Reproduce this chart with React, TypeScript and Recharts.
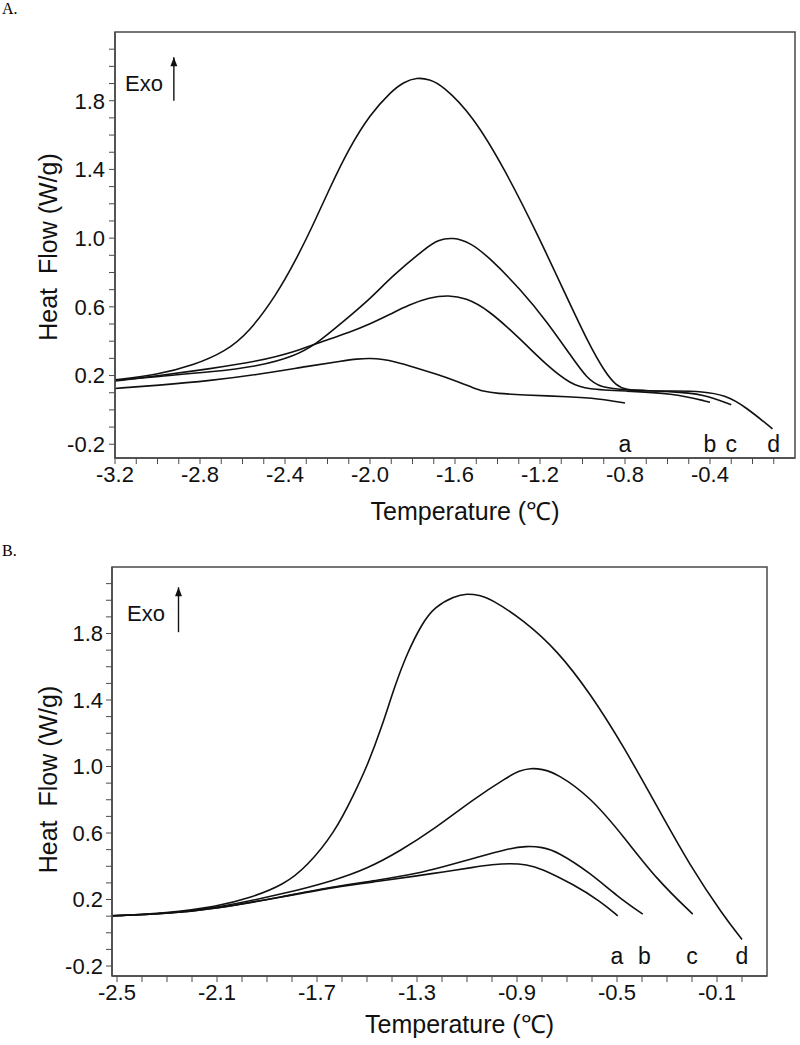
import React from 'react';
import { LineChart, Line, XAxis, YAxis, ReferenceArea, ReferenceDot, ReferenceLine } from 'recharts';

type Pt = [number, number];

const FONT = '"Liberation Sans", Arial, Helvetica, sans-serif';

// ---------- Panel A data (Temperature °C, Heat flow W/g) ----------
const panelA_a: Pt[] = [
  [-3.2, 0.125], [-3.0, 0.143], [-2.75, 0.17], [-2.52, 0.207], [-2.29, 0.255], [-2.13, 0.285],
  [-2.06, 0.297], [-2.0, 0.301], [-1.94, 0.295], [-1.88, 0.28], [-1.8, 0.252], [-1.68, 0.205],
  [-1.6, 0.17], [-1.52, 0.132], [-1.47, 0.108], [-1.4, 0.095], [-1.29, 0.088], [-1.055, 0.076],
  [-0.93, 0.066], [-0.8, 0.04],
];
const panelA_b: Pt[] = [
  [-3.2, 0.168], [-3.0, 0.198], [-2.75, 0.24], [-2.52, 0.285], [-2.36, 0.335], [-2.21, 0.405],
  [-2.1, 0.45], [-2.0, 0.5], [-1.9, 0.56], [-1.82, 0.61], [-1.72, 0.655], [-1.63, 0.668],
  [-1.55, 0.652], [-1.445, 0.585], [-1.29, 0.41], [-1.165, 0.255], [-1.055, 0.15], [-0.977, 0.12],
  [-0.8, 0.11], [-0.58, 0.098], [-0.4, 0.045],
];
const panelA_c: Pt[] = [
  [-3.2, 0.172], [-3.0, 0.195], [-2.75, 0.22], [-2.52, 0.255], [-2.36, 0.31], [-2.25, 0.385],
  [-2.13, 0.51], [-2.0, 0.645], [-1.895, 0.78], [-1.74, 0.94], [-1.68, 0.99], [-1.61, 1.005],
  [-1.53, 0.975], [-1.445, 0.895], [-1.29, 0.7], [-1.165, 0.51], [-1.055, 0.315], [-0.977, 0.18],
  [-0.915, 0.13], [-0.8, 0.115], [-0.58, 0.108], [-0.43, 0.092], [-0.3, 0.03],
];
const panelA_d: Pt[] = [
  [-3.2, 0.175], [-3.0, 0.205], [-2.83, 0.26], [-2.68, 0.34], [-2.57, 0.45], [-2.44, 0.67],
  [-2.35, 0.87], [-2.27, 1.07], [-2.19, 1.29], [-2.1, 1.52], [-2.0, 1.72], [-1.9, 1.855],
  [-1.84, 1.91], [-1.78, 1.935], [-1.72, 1.925], [-1.66, 1.89], [-1.52, 1.72], [-1.365, 1.4],
  [-1.207, 1.01], [-1.083, 0.68], [-0.973, 0.39], [-0.895, 0.22], [-0.84, 0.14], [-0.8, 0.118],
  [-0.7, 0.11], [-0.58, 0.11], [-0.43, 0.108], [-0.33, 0.085], [-0.24, 0.025], [-0.106, -0.11],
];

const aXTicks = [-3.2, -3.1, -3.0, -2.9, -2.8, -2.7, -2.6, -2.5, -2.4, -2.3, -2.2, -2.1, -2.0, -1.9, -1.8, -1.7,
  -1.6, -1.5, -1.4, -1.3, -1.2, -1.1, -1.0, -0.9, -0.8, -0.7, -0.6, -0.5, -0.4, -0.3, -0.2, -0.1];
const aXLabels = [-3.2, -2.8, -2.4, -2.0, -1.6, -1.2, -0.8, -0.4];
const yTicks = [-0.2, -0.1, 0.0, 0.1, 0.2, 0.3, 0.4, 0.5, 0.6, 0.7, 0.8, 0.9, 1.0, 1.1, 1.2, 1.3, 1.4, 1.5,
  1.6, 1.7, 1.8, 1.9, 2.0, 2.1];
const yLabels = [-0.2, 0.2, 0.6, 1.0, 1.4, 1.8];
const aLetters = ['a', 'b', 'c', 'd'];
const aLetterX = [-0.8, -0.4, -0.3, -0.1];

// ---------- Panel B data ----------
const panelB_a: Pt[] = [
  [-2.52, 0.102], [-2.3, 0.114], [-2.1, 0.145], [-1.83, 0.218], [-1.63, 0.275], [-1.45, 0.31],
  [-1.3, 0.342], [-1.2, 0.365], [-1.073, 0.394], [-1.0, 0.41], [-0.927, 0.418], [-0.86, 0.41],
  [-0.807, 0.39], [-0.673, 0.29], [-0.567, 0.19], [-0.497, 0.102],
];
const panelB_b: Pt[] = [
  [-2.52, 0.102], [-2.3, 0.114], [-2.1, 0.145], [-1.83, 0.22], [-1.63, 0.278], [-1.45, 0.318],
  [-1.3, 0.357], [-1.2, 0.395], [-1.073, 0.448], [-0.94, 0.505], [-0.86, 0.522], [-0.8, 0.515],
  [-0.74, 0.49], [-0.607, 0.36], [-0.5, 0.22], [-0.397, 0.112],
];
const panelB_c: Pt[] = [
  [-2.52, 0.102], [-2.3, 0.115], [-2.1, 0.15], [-1.83, 0.235], [-1.63, 0.315], [-1.5, 0.385],
  [-1.37, 0.49], [-1.23, 0.625], [-1.073, 0.805], [-0.94, 0.935], [-0.89, 0.975], [-0.847, 0.99],
  [-0.8, 0.985], [-0.74, 0.958], [-0.607, 0.818], [-0.473, 0.578], [-0.34, 0.318], [-0.197, 0.112],
];
const panelB_d: Pt[] = [
  [-2.52, 0.102], [-2.3, 0.118], [-2.1, 0.158], [-1.97, 0.208], [-1.83, 0.29], [-1.74, 0.4],
  [-1.63, 0.6], [-1.55, 0.84], [-1.5, 1.0], [-1.44, 1.24], [-1.39, 1.48], [-1.34, 1.68],
  [-1.28, 1.86], [-1.23, 1.96], [-1.15, 2.025], [-1.1, 2.04], [-1.05, 2.03], [-1.007, 2.01],
  [-0.873, 1.88], [-0.74, 1.7], [-0.607, 1.44], [-0.473, 1.12], [-0.34, 0.76], [-0.207, 0.4],
  [-0.073, 0.1], [0.0, -0.04],
];

const bXTicks = [-2.5, -2.4, -2.3, -2.2, -2.1, -2.0, -1.9, -1.8, -1.7, -1.6, -1.5, -1.4, -1.3, -1.2, -1.1,
  -1.0, -0.9, -0.8, -0.7, -0.6, -0.5, -0.4, -0.3, -0.2, -0.1, 0.0];
const bXLabels = [-2.5, -2.1, -1.7, -1.3, -0.9, -0.5, -0.1];
const bLetters = ['a', 'b', 'c', 'd'];
const bLetterX = [-0.5, -0.39, -0.2, 0.0];

const X_TITLE = 'Temperature (\u2103)';
const Y_TITLE = 'Heat\u00A0 Flow (W/g)';

type PanelProps = {
  height: number;
  marginRight: number;
  yAxisWidth: number;
  xAxisHeight: number;
  xDomain: [number, number];
  yDomain: [number, number];
  xTicks: number[];
  xLabels: number[];
  curves: Pt[][];
  letters: string[];
  letterX: number[];
  letterY: number;
  exoX: number;
  exoY: number;
  arrowX: number;
  arrowY1: number;
  arrowY2: number;
  xTitleDx: number;
  xTitleDy: number;
  yTitleDy: number;
  yTickMargin: number;
};

const fmt = (labels: number[]) => (v: number) => {
  const s = v.toFixed(1);
  return labels.some((l) => l.toFixed(1) === s) ? s : '';
};

function Panel(p: PanelProps) {
  const axisColor = '#4a4a4a';
  return (
    <LineChart
      width={800}
      height={p.height}
      margin={{ top: 32, right: p.marginRight, bottom: 0, left: 0 }}
    >
      <XAxis
        type="number"
        dataKey="x"
        domain={p.xDomain}
        ticks={p.xTicks}
        interval={0}
        allowDataOverflow
        height={p.xAxisHeight}
        tickSize={6}
        tickMargin={2}
        tickFormatter={fmt(p.xLabels)}
        stroke={axisColor}
        tick={{ fill: '#111', fontSize: 22, fontFamily: FONT }}
        axisLine={{ stroke: axisColor, strokeWidth: 1.5 }}
        tickLine={{ stroke: axisColor }}
        label={{
          content: (lp: any) => {
            const vb = lp.viewBox || {};
            return (
              <text
                x={vb.x + vb.width / 2 + p.xTitleDx}
                y={vb.y + p.xTitleDy}
                textAnchor="middle"
                fontSize={25}
                fontFamily={FONT}
                fill="#111"
              >
                {X_TITLE}
              </text>
            );
          },
        }}
      />
      <YAxis
        type="number"
        domain={p.yDomain}
        ticks={yTicks}
        interval={0}
        allowDataOverflow
        width={p.yAxisWidth}
        tickSize={6}
        tickMargin={p.yTickMargin}
        tickFormatter={fmt(yLabels)}
        stroke={axisColor}
        tick={{ fill: '#111', fontSize: 22, fontFamily: FONT }}
        axisLine={{ stroke: axisColor, strokeWidth: 1.5 }}
        tickLine={{ stroke: axisColor }}
        label={{
          content: (lp: any) => {
            const vb = lp.viewBox || {};
            const cx = 48;
            const cy = vb.y + vb.height / 2 + p.yTitleDy;
            return (
              <text
                x={cx}
                y={cy}
                transform={`rotate(-90 ${cx} ${cy})`}
                textAnchor="middle"
                dominantBaseline="central"
                fontSize={25}
                fontFamily={FONT}
                fill="#111"
              >
                {Y_TITLE}
              </text>
            );
          },
        }}
      />
      <ReferenceArea
        x1={p.xDomain[0]}
        x2={p.xDomain[1]}
        y1={p.yDomain[0]}
        y2={p.yDomain[1]}
        fill="none"
        fillOpacity={0}
        stroke={axisColor}
        strokeWidth={1.5}
        ifOverflow="visible"
      />
      {p.curves.map((c, i) => (
        <Line
          key={i}
          data={c.map(([x, y]) => ({ x, y }))}
          dataKey="y"
          type="basis"
          stroke="#111"
          strokeWidth={1.6}
          dot={false}
          activeDot={false}
          isAnimationActive={false}
        />
      ))}
      {p.letters.map((l, i) => (
        <ReferenceDot
          key={'l' + i}
          x={p.letterX[i]}
          y={p.letterY}
          r={0}
          ifOverflow="visible"
          shape={(sp: any) => (
            <text
              x={sp.cx}
              y={sp.cy}
              textAnchor="middle"
              dominantBaseline="central"
              fontSize={23}
              fontFamily={FONT}
              fill="#111"
            >
              {l}
            </text>
          )}
        />
      ))}
      <ReferenceDot
        x={p.exoX}
        y={p.exoY}
        r={0}
        ifOverflow="visible"
        shape={(sp: any) => (
          <text
            x={sp.cx}
            y={sp.cy}
            textAnchor="start"
            dominantBaseline="central"
            fontSize={22}
            fontFamily={FONT}
            fill="#111"
          >
            Exo
          </text>
        )}
      />
      <ReferenceLine
        segment={[
          { x: p.arrowX, y: p.arrowY1 },
          { x: p.arrowX, y: p.arrowY2 },
        ]}
        stroke="#111"
        strokeWidth={1.4}
        ifOverflow="visible"
      />
      <ReferenceDot
        x={p.arrowX}
        y={p.arrowY2}
        r={0}
        ifOverflow="visible"
        shape={(sp: any) => (
          <path
            d={`M ${sp.cx} ${sp.cy} L ${sp.cx - 3.5} ${sp.cy + 9} L ${sp.cx + 3.5} ${sp.cy + 9} Z`}
            fill="#111"
          />
        )}
      />
    </LineChart>
  );
}

export default function App() {
  return (
    <div
      style={{
        position: 'absolute',
        left: 0,
        top: 0,
        width: 800,
        height: 1045,
        background: '#fff',
        overflow: 'hidden',
      }}
    >
      <div
        style={{
          position: 'absolute',
          left: 2,
          top: 0,
          fontFamily: '"Liberation Serif", "Times New Roman", serif',
          fontSize: 16,
          lineHeight: '18px',
        }}
      >
        A.
      </div>
      <div
        style={{
          position: 'absolute',
          left: 2,
          top: 542,
          fontFamily: '"Liberation Serif", "Times New Roman", serif',
          fontSize: 16,
          lineHeight: '18px',
        }}
      >
        B.
      </div>
      <div style={{ position: 'absolute', left: 0, top: 0 }}>
        <Panel
          height={535}
          marginRight={5}
          yAxisWidth={115}
          xAxisHeight={77}
          xDomain={[-3.2, 0]}
          yDomain={[-0.28, 2.2]}
          xTicks={aXTicks}
          xLabels={aXLabels}
          curves={[panelA_a, panelA_b, panelA_c, panelA_d]}
          letters={aLetters}
          letterX={aLetterX}
          letterY={-0.2}
          exoX={-3.153}
          exoY={1.9}
          arrowX={-2.923}
          arrowY1={1.8}
          arrowY2={2.053}
          xTitleDx={10}
          xTitleDy={62}
          yTitleDy={2}
          yTickMargin={4}
        />
      </div>
      <div style={{ position: 'absolute', left: 0, top: 535 }}>
        <Panel
          height={510}
          marginRight={33}
          yAxisWidth={112}
          xAxisHeight={69}
          xDomain={[-2.52, 0.1]}
          yDomain={[-0.26, 2.2]}
          xTicks={bXTicks}
          xLabels={bXLabels}
          curves={[panelB_a, panelB_b, panelB_c, panelB_d]}
          letters={bLetters}
          letterX={bLetterX}
          letterY={-0.138}
          exoX={-2.46}
          exoY={1.918}
          arrowX={-2.254}
          arrowY1={1.808}
          arrowY2={2.078}
          xTitleDx={20}
          xTitleDy={57}
          yTitleDy={8}
          yTickMargin={3}
        />
      </div>
    </div>
  );
}
